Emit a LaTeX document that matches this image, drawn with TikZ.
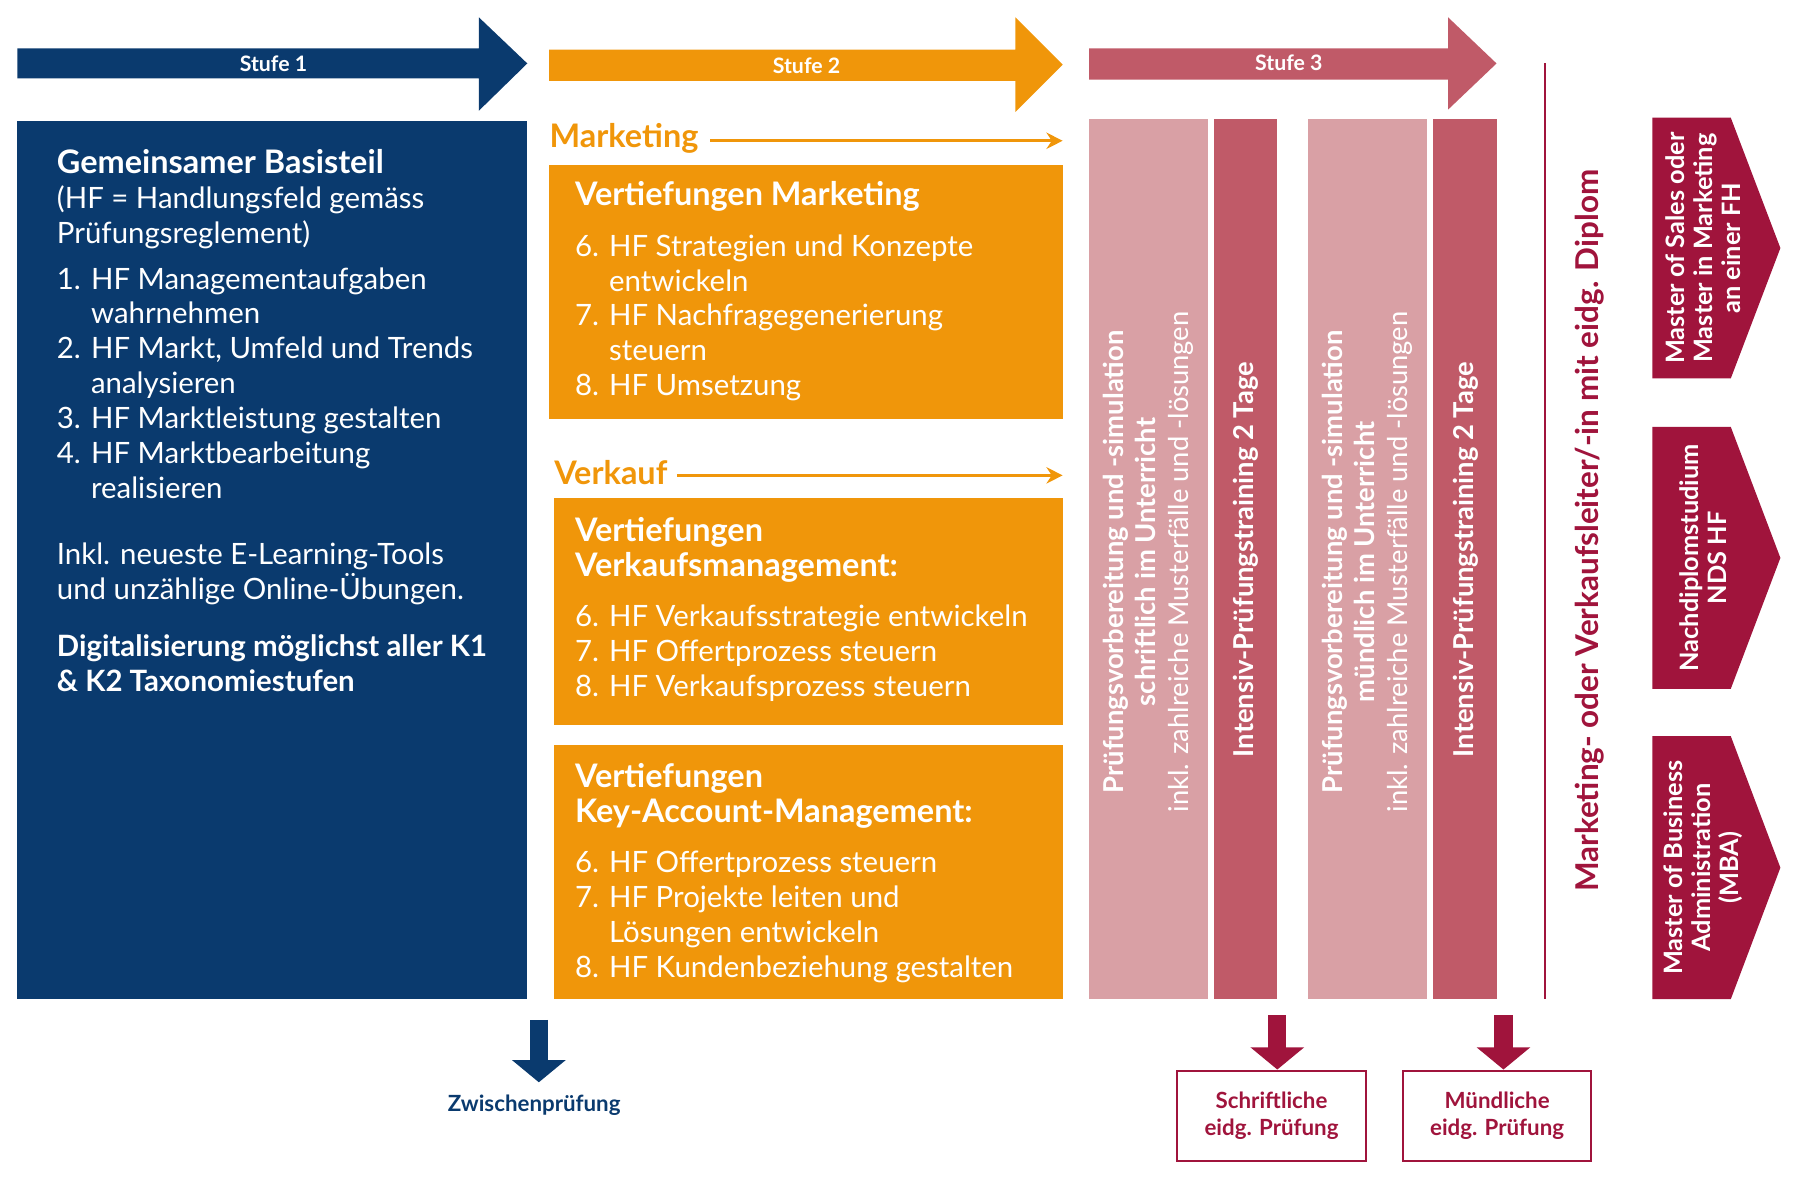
\documentclass[tikz,border=0pt]{standalone}
\usepackage{fontspec}
\setmainfont{Lato}
\usetikzlibrary{positioning,arrows.meta}
\definecolor{navy}{HTML}{0A3A6E}
\definecolor{orng}{HTML}{F0960A}
\definecolor{rose}{HTML}{C05A68}
\definecolor{lrose}{HTML}{D9A0A5}
\definecolor{crim}{HTML}{A0143C}
\newcommand\body{\fontsize{14.5}{17.2}\selectfont}
\newcommand\ttl{\fontsize{16}{17.5}\selectfont\bfseries}
\begin{document}
\begin{tikzpicture}[x=0.02cm,y=-0.02cm,
  stage/.style={font=\bfseries\fontsize{10.5}{12}\selectfont,text=white},
  txt/.style={anchor=north west,align=left,text=white,inner sep=0pt},
  rot/.style={rotate=90,align=center,text=white,inner sep=0pt},
  dn/.style={line width=9pt,-{Triangle[width=26pt,length=11pt]}}]
\useasboundingbox (0,0) rectangle (1560,1026);
% stage arrows
\fill[navy] (15,42) -- (415,42) -- (415,15) -- (457,55) -- (415,96) -- (415,68) -- (15,68) -- cycle;
\node[stage] (s1) at (237,55) {Stufe 1};
\fill[orng] (476,43) -- (880,43) -- (880,15) -- (921,56) -- (880,97) -- (880,70) -- (476,70) -- cycle;
\node[stage] (s2) at (699,57) {Stufe 2};
\fill[rose] (944,42) -- (1255,42) -- (1255,15) -- (1297,55) -- (1255,95) -- (1255,69) -- (944,69) -- cycle;
\node[stage] (s3) at (1117,54) {Stufe 3};
% navy box
\fill[navy] (15,105) rectangle (457,866);
\node[txt] (basis) at (49,129) {\begin{minipage}{400\dimexpr0.02cm\relax}\body
{\ttl Gemeinsamer Basisteil}\\
(HF = Handlungsfeld gemäss\\ Prüfungsreglement)\\[7pt]
\begin{tabular}{@{}l@{\hspace{5pt}}l@{}}
1. & HF Managementaufgaben\\ & wahrnehmen\\
2. & HF Markt, Umfeld und Trends\\ & analysieren\\
3. & HF Marktleistung gestalten\\
4. & HF Marktbearbeitung\\ & realisieren
\end{tabular}\\[16pt]
Inkl. neueste E-Learning-Tools\\ und unzählige Online-Übungen.\\[11pt]
{\bfseries Digitalisierung möglichst aller K1\\ \& K2 Taxonomiestufen}
\end{minipage}};
% Marketing
\node[text=orng,font=\ttl,anchor=west,inner sep=0pt] (mk) at (476,120) {Marketing};
\coordinate (mkend) at (921,122);
\draw[orng,line width=1.5pt,-{Stealth[length=8pt,width=8pt]}] (mk.east)+(10,2) -- (mkend);
\fill[orng] (476,143) rectangle (921,363);
\node[txt] (b1) at (498,157) {\begin{minipage}{420\dimexpr0.02cm\relax}\body
{\ttl Vertiefungen Marketing}\\[9pt]
\begin{tabular}{@{}l@{\hspace{5pt}}l@{}}
6. & HF Strategien und Konzepte\\ & entwickeln\\
7. & HF Nachfragegenerierung\\ & steuern\\
8. & HF Umsetzung
\end{tabular}\end{minipage}};
% Verkauf
\node[text=orng,font=\ttl,anchor=west,inner sep=0pt] (vk) at (480,410) {Verkauf};
\coordinate (vkend) at (921,412);
\draw[orng,line width=1.5pt,-{Stealth[length=8pt,width=8pt]}] (vk.east)+(8,2) -- (vkend);
\fill[orng] (480,432) rectangle (921,628);
\node[txt] (b2) at (498,448) {\begin{minipage}{420\dimexpr0.02cm\relax}\body
{\ttl Vertiefungen\\ Verkaufsmanagement:}\\[9pt]
\begin{tabular}{@{}l@{\hspace{5pt}}l@{}}
6. & HF Verkaufsstrategie entwickeln\\
7. & HF Offertprozess steuern\\
8. & HF Verkaufsprozess steuern
\end{tabular}\end{minipage}};
\fill[orng] (480,646) rectangle (921,866);
\node[txt] (b3) at (498,661) {\begin{minipage}{420\dimexpr0.02cm\relax}\body
{\ttl Vertiefungen\\ Key-Account-Management:}\\[9pt]
\begin{tabular}{@{}l@{\hspace{5pt}}l@{}}
6. & HF Offertprozess steuern\\
7. & HF Projekte leiten und\\ & Lösungen entwickeln\\
8. & HF Kundenbeziehung gestalten
\end{tabular}\end{minipage}};
% Stufe 3 columns
\fill[lrose] (944,103) rectangle (1047,866);
\fill[rose] (1052,103) rectangle (1107,866);
\fill[lrose] (1134,103) rectangle (1237,866);
\fill[rose] (1242,103) rectangle (1297,866);
\node[rot,font=\fontsize{13.5}{16}\selectfont] (c1) at (995,487) {{\bfseries Prüfungsvorbereitung und -simulation}\\ {\bfseries schriftlich im Unterricht}\\ inkl. zahlreiche Musterfälle und -lösungen};
\node[rot,font=\fontsize{13.5}{16}\selectfont\bfseries] (c2) at (1080,485) {Intensiv-Prüfungstraining 2 Tage};
\node[rot,font=\fontsize{13.5}{16}\selectfont] (c3) at (1185,487) {{\bfseries Prüfungsvorbereitung und -simulation}\\ {\bfseries mündlich im Unterricht}\\ inkl. zahlreiche Musterfälle und -lösungen};
\node[rot,font=\fontsize{13.5}{16}\selectfont\bfseries] (c4) at (1270,485) {Intensiv-Prüfungstraining 2 Tage};
% diploma line
\draw[crim,line width=1.2pt] (1339,55) -- (1339,866);
\node[rot,text=crim,font=\fontsize{15.5}{18}\selectfont\bfseries] (dip) at (1378,460) {Marketing- oder Verkaufsleiter/-in mit eidg. Diplom};
% right pentagons
\foreach \ya/\yb/\t [count=\i] in {102/328/{Master of Sales oder\\ Master in Marketing\\ an einer FH},370/597/{Nachdiplomstudium\\ NDS HF},638/866/{Master of Business\\ Administration\\ (MBA)}}{
  \fill[crim] (1432,\ya) -- (1500,\ya) -- (1543,{(\ya+\yb)/2}) -- (1500,\yb) -- (1432,\yb) -- cycle;
  \node[rot,font=\bfseries\fontsize{12.5}{14}\selectfont] (p\i) at (1476,{(\ya+\yb)/2}) {\t};
}
% bottom arrows
\coordinate (za) at (467,884); \coordinate (zb) at (467,938);
\draw[navy,dn] (za) -- (zb);
\node[text=navy,font=\bfseries\fontsize{11}{13}\selectfont] (zw) at (463,958) {Zwischenprüfung};
\node[draw=crim,line width=1.2pt,minimum width=164*0.02cm,minimum height=78*0.02cm,text=crim,align=center,font=\bfseries\fontsize{11}{13}\selectfont] (sp) at (1102,967) {Schriftliche\\ eidg. Prüfung};
\node[draw=crim,line width=1.2pt,minimum width=163*0.02cm,minimum height=78*0.02cm,text=crim,align=center,font=\bfseries\fontsize{11}{13}\selectfont] (mp) at (1297.5,967) {Mündliche\\ eidg. Prüfung};
\coordinate (sa) at (1107,880); \coordinate (ma) at (1303,880);
\draw[crim,dn] (sa) -- (sa|-sp.north);
\draw[crim,dn] (ma) -- (ma|-mp.north);
\end{tikzpicture}
\end{document}
